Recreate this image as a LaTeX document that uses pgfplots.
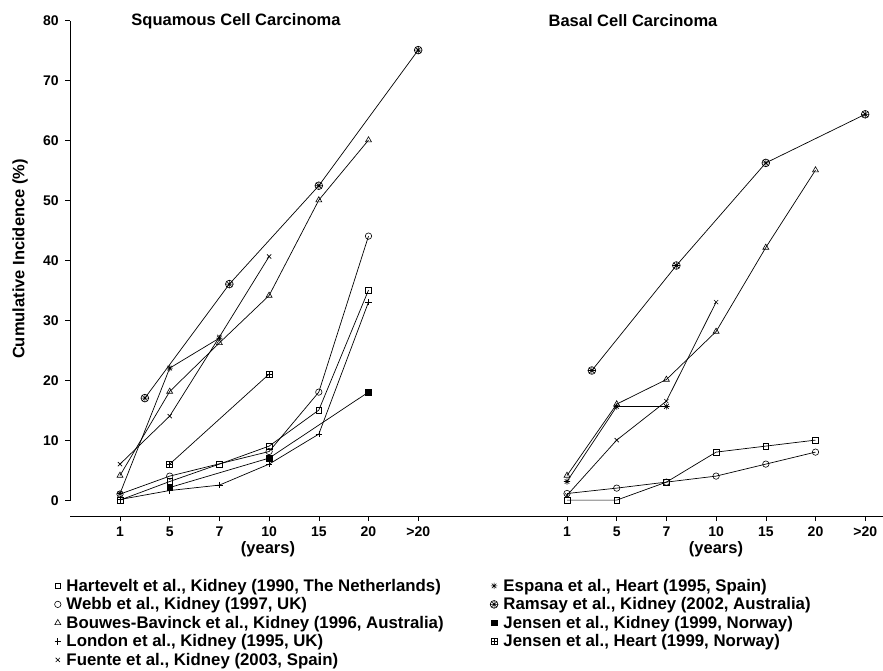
\documentclass[border=0pt]{standalone}
\usepackage{fontspec}
\setmainfont{Liberation Sans}
\usepackage{pgfplots}
\pgfplotsset{compat=1.18}

% R-like plotting symbols
\pgfdeclareplotmark{rstar}{%
  \pgfpathmoveto{\pgfqpoint{-\pgfplotmarksize}{0pt}}\pgfpathlineto{\pgfqpoint{\pgfplotmarksize}{0pt}}%
  \pgfpathmoveto{\pgfqpoint{0pt}{-\pgfplotmarksize}}\pgfpathlineto{\pgfqpoint{0pt}{\pgfplotmarksize}}%
  \pgfpathmoveto{\pgfqpoint{-.707\pgfplotmarksize}{-.707\pgfplotmarksize}}\pgfpathlineto{\pgfqpoint{.707\pgfplotmarksize}{.707\pgfplotmarksize}}%
  \pgfpathmoveto{\pgfqpoint{-.707\pgfplotmarksize}{.707\pgfplotmarksize}}\pgfpathlineto{\pgfqpoint{.707\pgfplotmarksize}{-.707\pgfplotmarksize}}%
  \pgfusepathqstroke}
\pgfdeclareplotmark{circast}{%
  \pgfpathcircle{\pgfpointorigin}{\pgfplotmarksize}%
  \pgfpathmoveto{\pgfqpoint{-\pgfplotmarksize}{0pt}}\pgfpathlineto{\pgfqpoint{\pgfplotmarksize}{0pt}}%
  \pgfpathmoveto{\pgfqpoint{0pt}{-\pgfplotmarksize}}\pgfpathlineto{\pgfqpoint{0pt}{\pgfplotmarksize}}%
  \pgfpathmoveto{\pgfqpoint{-.707\pgfplotmarksize}{-.707\pgfplotmarksize}}\pgfpathlineto{\pgfqpoint{.707\pgfplotmarksize}{.707\pgfplotmarksize}}%
  \pgfpathmoveto{\pgfqpoint{-.707\pgfplotmarksize}{.707\pgfplotmarksize}}\pgfpathlineto{\pgfqpoint{.707\pgfplotmarksize}{-.707\pgfplotmarksize}}%
  \pgfusepathqstroke}
\pgfdeclareplotmark{squareplus}{%
  \pgfpathrectangle{\pgfqpoint{-\pgfplotmarksize}{-\pgfplotmarksize}}{\pgfqpoint{2\pgfplotmarksize}{2\pgfplotmarksize}}%
  \pgfpathmoveto{\pgfqpoint{-\pgfplotmarksize}{0pt}}\pgfpathlineto{\pgfqpoint{\pgfplotmarksize}{0pt}}%
  \pgfpathmoveto{\pgfqpoint{0pt}{-\pgfplotmarksize}}\pgfpathlineto{\pgfqpoint{0pt}{\pgfplotmarksize}}%
  \pgfusepathqstroke}

\newcommand\bigfont{\bfseries\fontsize{16.5}{19}\selectfont}

\pgfplotsset{
  every axis plot/.append style={black, line width=0.7pt, mark size=2.9pt, mark options={solid, line width=0.6pt}},
  hart/.style={mark=square},
  webb/.style={mark=o, mark size=3.2pt},
  bouw/.style={mark=triangle, mark size=3.4pt},
  lond/.style={mark=+, mark size=3.2pt},
  fuen/.style={mark=x, mark size=3pt},
  espa/.style={mark=rstar, mark size=3.2pt},
  rams/.style={mark=circast, mark size=3.9pt},
  jenk/.style={mark=square*, mark size=2.8pt, mark options={solid, fill=black}},
  jenh/.style={mark=squareplus, mark size=3pt},
  panel/.style={
    x=49.7pt, y=6pt,
    ymin=-2.55, ymax=80,
    axis x line*=bottom,
    tick align=outside,
    major tick length=5pt,
    xtick={0,...,6},
    xticklabels={1,5,7,10,15,20,>20},
    ticklabel style={font=\bfseries\fontsize{14}{16}\selectfont},
    xticklabel style={yshift=-2.5pt},
    tick style={black, line width=0.6pt},
    axis line style={line width=0.6pt},
    clip=false,
    /pgf/number format/assume math mode=true,
  },
}

\begin{document}
\begin{tikzpicture}
\useasboundingbox (0,0) rectangle (883pt,-670pt);

% Squamous cell carcinoma
\begin{axis}[
  panel,
  at={(120pt,-500.7pt)}, anchor=origin,
  xmin=-1, xmax=7,
  axis y line*=left,
  ytick={0,10,...,80},
  yticklabel style={xshift=-3pt},
  y axis line style={shorten <=15.3pt},
  legend columns=5, transpose legend,
  legend cell align=left,
  legend image code/.code={\draw[#1, only marks] plot coordinates {(0pt,1pt)};},
  legend style={draw=none, fill=none, at={(-0.040,-0.124)}, anchor=north west,
    font=\bfseries\fontsize{16.8}{19}\selectfont, inner sep=0pt, row sep=0pt,
    nodes={text height=12.5pt, text depth=4pt, inner ysep=1pt, inner xsep=5.5pt},
    /tikz/every even column/.append style={column sep=41pt}},
]
\addplot[hart] coordinates {(0,0.1) (1,3.2) (2,6.1) (3,9.1) (4,15.1) (5,35.1)};
\addlegendentry{Hartevelt et al., Kidney (1990, The Netherlands)}
\addplot[webb] coordinates {(0,1.1) (1,4.1) (3,8.2) (4,18.1) (5,44.1)};
\addlegendentry{Webb et al., Kidney (1997, UK)}
\addplot[bouw] coordinates {(0,4.2) (1,18.2) (2,26.3) (3,34.2) (4,50.1) (5,60.1)};
\addlegendentry{Bouwes-Bavinck et al., Kidney (1996, Australia)}
\addplot[lond] coordinates {(0,0.2) (1,1.7) (2,2.6) (3,6.1) (4,11.1) (5,33.1)};
\addlegendentry{London et al., Kidney (1995, UK)}
\addplot[fuen] coordinates {(0,6.1) (1,14.1) (2,27.3) (3,40.7)};
\addlegendentry{Fuente et al., Kidney (2003, Spain)}
\addplot[espa] coordinates {(0,1.2) (1,22.1) (2,27.1)};
\addlegendentry{Espana et al., Heart (1995, Spain)}
\addplot[rams] coordinates {(0.5,17.1) (2.2,36.1) (4,52.5) (6,75.1)};
\addlegendentry{Ramsay et al., Kidney (2002, Australia)}
\addplot[jenk] coordinates {(1,2.2) (3,7.1) (5,18.1)};
\addlegendentry{Jensen et al., Kidney (1999, Norway)}
\addplot[jenh] coordinates {(1,6.1) (3,21.1)};
\addlegendentry{Jensen et al., Heart (1999, Norway)}
\end{axis}

% Basal cell carcinoma
\begin{axis}[
  panel,
  at={(567pt,-500.7pt)}, anchor=origin,
  xmin=-1.99, xmax=6.36,
  hide y axis,
]
\addplot[hart] coordinates {(0,0.1) (1,0.1) (2,3.1) (3,8.1) (4,9.1) (5,10.1)};
\addplot[webb] coordinates {(0,1.2) (1,2.1) (2,3.1) (3,4.1) (4,6.1) (5,8.1)};
\addplot[bouw] coordinates {(0,4.2) (1,16.1) (2,20.2) (3,28.2) (4,42.2) (5,55.1)};
\addplot[fuen] coordinates {(0,0.9) (1,10.1) (2,16.6) (3,33.1)};
\addplot[espa] coordinates {(0,3.2) (1,15.7) (2,15.7)};
\addplot[rams] coordinates {(0.5,21.7) (2.2,39.2) (4,56.3) (6,64.4)};
\end{axis}

\node[font=\bigfont] at (236pt,-21pt) {Squamous Cell Carcinoma};
\node[font=\bigfont] at (633pt,-21pt) {Basal Cell Carcinoma};
\node[font=\bigfont, rotate=90] at (20pt,-259pt) {Cumulative Incidence (\%)};
\node[font=\bigfont] at (268pt,-549pt) {(years)};
\node[font=\bigfont] at (716pt,-549pt) {(years)};
\end{tikzpicture}
\end{document}
